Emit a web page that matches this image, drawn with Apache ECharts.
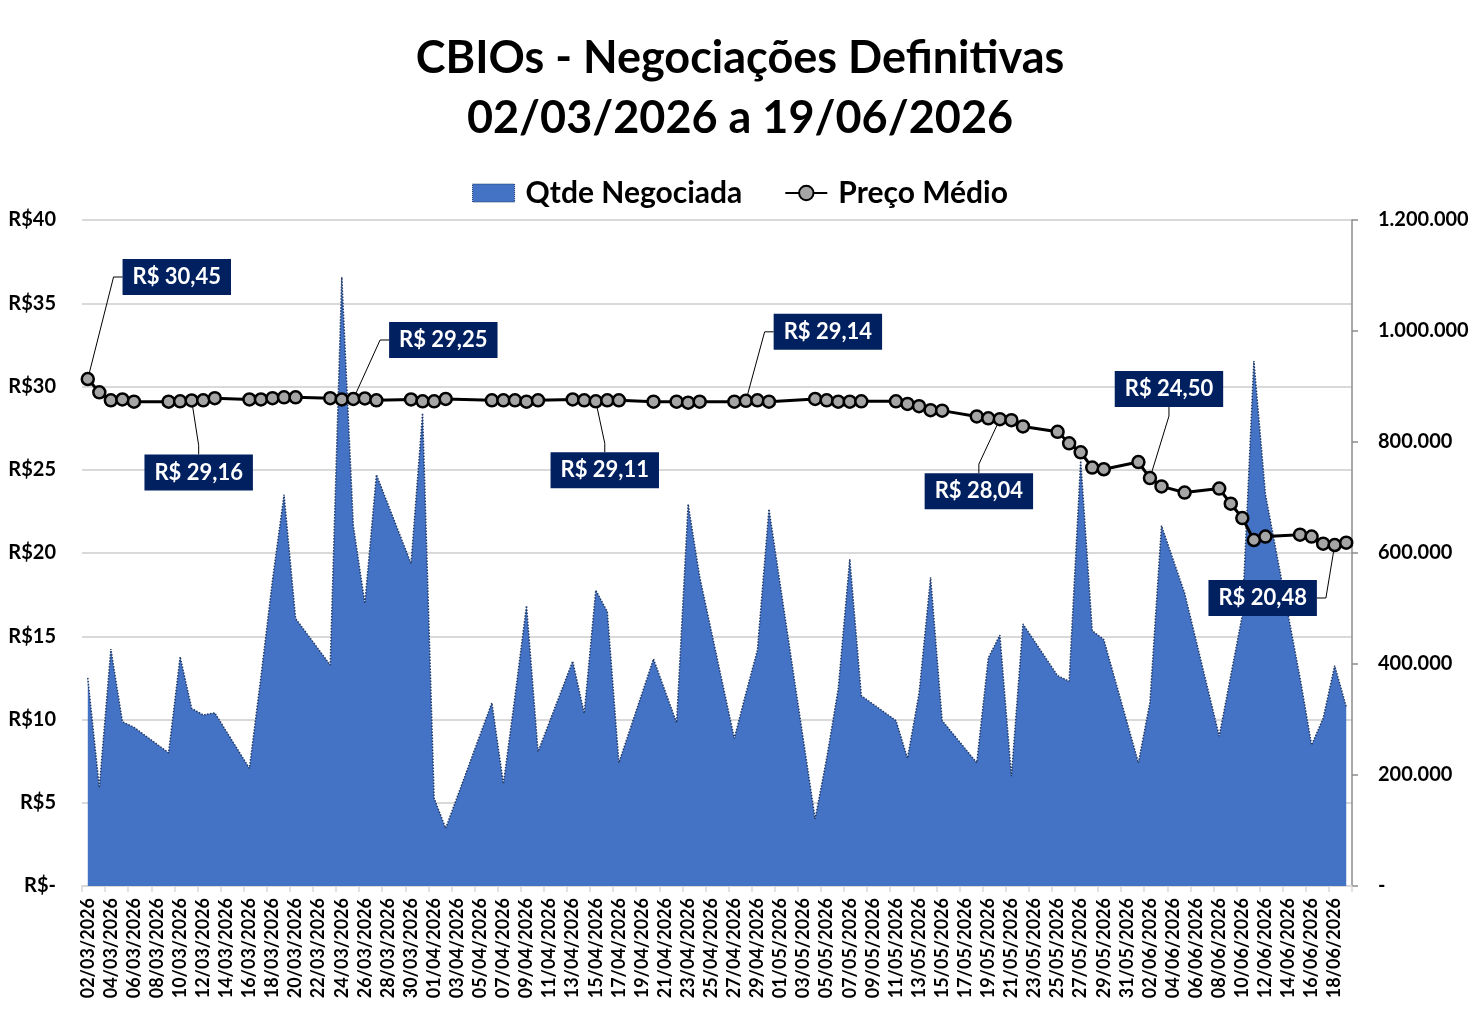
<!DOCTYPE html>
<html>
<head>
<meta charset="utf-8">
<title>CBIOs - Negociações Definitivas</title>
<script src="https://cdn.jsdelivr.net/npm/echarts@6.0.0/dist/echarts.min.js"></script>
<style>
  html, body { margin: 0; padding: 0; background: #fff; }
  #chart { width: 1480px; height: 1022px; }
</style>
</head>
<body>
<div id="chart"></div>
<script>
// pregões (dias com negociação)
const tradeDates = [
  '02/03/2026', '03/03/2026', '04/03/2026', '05/03/2026', '06/03/2026',
  '09/03/2026', '10/03/2026', '11/03/2026', '12/03/2026', '13/03/2026',
  '16/03/2026', '17/03/2026', '18/03/2026', '19/03/2026', '20/03/2026',
  '23/03/2026', '24/03/2026', '25/03/2026', '26/03/2026', '27/03/2026',
  '30/03/2026', '31/03/2026', '01/04/2026', '02/04/2026',
  '06/04/2026', '07/04/2026', '08/04/2026', '09/04/2026', '10/04/2026',
  '13/04/2026', '14/04/2026', '15/04/2026', '16/04/2026', '17/04/2026',
  '20/04/2026', '22/04/2026', '23/04/2026', '24/04/2026',
  '27/04/2026', '28/04/2026', '29/04/2026', '30/04/2026',
  '04/05/2026', '05/05/2026', '06/05/2026', '07/05/2026', '08/05/2026',
  '11/05/2026', '12/05/2026', '13/05/2026', '14/05/2026', '15/05/2026',
  '18/05/2026', '19/05/2026', '20/05/2026', '21/05/2026', '22/05/2026',
  '25/05/2026', '26/05/2026', '27/05/2026', '28/05/2026', '29/05/2026',
  '01/06/2026', '02/06/2026', '03/06/2026', '05/06/2026',
  '08/06/2026', '09/06/2026', '10/06/2026', '11/06/2026', '12/06/2026',
  '15/06/2026', '16/06/2026', '17/06/2026', '18/06/2026', '19/06/2026'
];

const qtdeNegociada = [
  375000, 177000, 427000, 296000, 286000,
  240000, 413000, 320000, 308000, 312000,
  212000, 377000, 551000, 705000, 482000,
  398000, 1097000, 649000, 509000, 741000,
  581000, 852000, 158000, 104000,
  330000, 184000, 341000, 505000, 242000,
  405000, 311000, 533000, 494000, 222000,
  409000, 294000, 688000, 557000,
  266000, 347000, 425000, 679000,
  121000, 230000, 355000, 589000, 343000,
  298000, 230000, 347000, 556000, 298000,
  222000, 411000, 452000, 198000, 472000,
  379000, 369000, 766000, 460000, 444000,
  222000, 331000, 649000, 528000,
  270000, 379000, 488000, 946000, 706000,
  375000, 254000, 302000, 397000, 323000
];

const precoMedio = [
  30.45, 29.65, 29.17, 29.22, 29.09,
  29.09, 29.11, 29.16, 29.17, 29.30,
  29.22, 29.22, 29.30, 29.35, 29.35,
  29.30, 29.22, 29.25, 29.28, 29.17,
  29.22, 29.11, 29.11, 29.25,
  29.17, 29.17, 29.17, 29.09, 29.17,
  29.22, 29.17, 29.11, 29.17, 29.17,
  29.09, 29.09, 29.03, 29.09,
  29.09, 29.14, 29.17, 29.09,
  29.25, 29.17, 29.09, 29.09, 29.11,
  29.11, 28.95, 28.82, 28.58, 28.55,
  28.20, 28.09, 28.04, 27.98, 27.60,
  27.28, 26.59, 26.05, 25.13, 25.03,
  25.46, 24.50, 24.00, 23.63,
  23.87, 22.96, 22.10, 20.78, 20.99,
  21.10, 20.99, 20.56, 20.48, 20.62
];

// pontos com rótulo de destaque
const destaques = ['02/03/2026', '11/03/2026', '25/03/2026', '15/04/2026',
                   '28/04/2026', '20/05/2026', '02/06/2026', '18/06/2026'];

// deslocamento de cada rótulo em relação ao ponto (px)
const labelOffsets = {
  '02/03/2026': [89, -102],
  '11/03/2026': [7, 72],
  '25/03/2026': [90, -59],
  '15/04/2026': [9, 69],
  '28/04/2026': [82, -69],
  '20/05/2026': [-21, 72],
  '02/06/2026': [19, -89],
  '18/06/2026': [-72, 53]
};

// eixo de datas corrido (dia a dia)
function fmtDate(d) {
  const dd = String(d.getUTCDate()).padStart(2, '0');
  const mm = String(d.getUTCMonth() + 1).padStart(2, '0');
  return dd + '/' + mm + '/' + d.getUTCFullYear();
}
function parseDate(s) {
  const p = s.split('/');
  return new Date(Date.UTC(+p[2], +p[1] - 1, +p[0]));
}
const calendarDays = [];
for (let d = parseDate(tradeDates[0]); d <= parseDate(tradeDates[tradeDates.length - 1]);
     d = new Date(d.getTime() + 86400000)) {
  calendarDays.push(fmtDate(d));
}

const qtdeData = calendarDays.map(day => {
  const i = tradeDates.indexOf(day);
  return i >= 0 ? qtdeNegociada[i] : null;
});
const precoData = calendarDays.map(day => {
  const i = tradeDates.indexOf(day);
  if (i < 0) return null;
  if (destaques.indexOf(day) >= 0) {
    return { value: precoMedio[i], label: { show: true } };
  }
  return precoMedio[i];
});

function milhar(v) {
  return String(v).replace(/\B(?=(\d{3})+(?!\d))/g, '.');
}

const chart = echarts.init(document.getElementById('chart'), null, { renderer: 'canvas' });
const FONT = 'Lato';

const option = {
  animation: false,
  backgroundColor: '#ffffff',
  textStyle: { fontFamily: FONT },
  title: {
    text: 'CBIOs - Negociações Definitivas\n02/03/2026 a 19/06/2026',
    left: 'center',
    top: 23,
    padding: [5, 0, 5, 16],
    textStyle: {
      fontFamily: FONT,
      fontSize: 45,
      fontWeight: 'bold',
      lineHeight: 60,
      color: '#000'
    }
  },
  legend: {
    top: 173,
    left: 'center',
    itemWidth: 42,
    itemHeight: 18,
    itemGap: 42,
    textStyle: {
      fontFamily: FONT, fontSize: 30, fontWeight: 'bold', color: '#000',
      padding: [0, 0, 0, 6]
    },
    data: [
      {
        name: 'Qtde Negociada',
        icon: 'rect',
        itemStyle: { color: '#4472C4', borderColor: '#1F3864', borderWidth: 1, borderType: 'dotted' }
      },
      { name: 'Preço Médio' }
    ]
  },
  grid: {
    left: 82,
    right: 128,
    top: 220,
    bottom: 136
  },
  xAxis: {
    type: 'category',
    data: calendarDays,
    boundaryGap: true,
    axisLine: { show: true, lineStyle: { color: '#D9D9D9', width: 2 } },
    axisTick: { show: true, interval: 1, length: 6, lineStyle: { color: '#D9D9D9', width: 1.5 } },
    axisLabel: {
      interval: 1,
      rotate: 90,
      margin: 12,
      fontFamily: FONT,
      fontSize: 18,
      fontWeight: 'bold',
      color: '#000'
    },
    splitLine: { show: false }
  },
  yAxis: [
    {
      type: 'value',
      min: 0,
      max: 40,
      interval: 5,
      axisLine: { show: false },
      axisTick: { show: false },
      axisLabel: {
        margin: 26,
        fontFamily: FONT,
        fontSize: 20,
        fontWeight: 'bold',
        color: '#000',
        formatter: v => (v === 0 ? 'R$-' : 'R$' + v)
      },
      splitLine: { show: true, lineStyle: { color: '#D9D9D9', width: 2 } }
    },
    {
      type: 'value',
      min: 0,
      max: 1200000,
      interval: 200000,
      position: 'right',
      axisLine: { show: true, lineStyle: { color: '#8C8C8C', width: 1.5 } },
      axisTick: { show: true, inside: false, length: 6, lineStyle: { color: '#8C8C8C', width: 1.5 } },
      axisLabel: {
        margin: 26,
        fontFamily: FONT,
        fontSize: 20,
        fontWeight: 'bold',
        color: '#000',
        formatter: v => (v === 0 ? '-' : milhar(v))
      },
      splitLine: { show: false }
    }
  ],
  series: [
    {
      name: 'Qtde Negociada',
      type: 'line',
      yAxisIndex: 1,
      data: qtdeData,
      connectNulls: true,
      showSymbol: false,
      symbol: 'none',
      z: 1,
      lineStyle: { color: '#1F3864', width: 1.5, type: 'dotted' },
      itemStyle: { color: '#4472C4' },
      areaStyle: { color: '#4472C4', opacity: 1 }
    },
    {
      name: 'Preço Médio',
      type: 'line',
      yAxisIndex: 0,
      data: precoData,
      connectNulls: true,
      symbol: 'circle',
      symbolSize: 12,
      showSymbol: true,
      showAllSymbol: true,
      z: 3,
      lineStyle: { color: '#000', width: 3 },
      itemStyle: { color: '#A5A5A5', borderColor: '#000', borderWidth: 2.5 },
      label: {
        show: false,
        position: 'inside',
        formatter: p => 'R$ ' + Number(p.value).toFixed(2).replace('.', ','),
        backgroundColor: '#002060',
        color: '#fff',
        fontFamily: FONT,
        fontSize: 22,
        fontWeight: 'bold',
        lineHeight: 24,
        padding: [6, 10]
      },
      labelLine: {
        show: true,
        length2: 9,
        lineStyle: { color: '#000', width: 1 }
      },
      labelLayout: function (params) {
        const off = labelOffsets[calendarDays[params.dataIndex]];
        if (!off) return {};
        return { dx: off[0], dy: off[1] };
      }
    }
  ]
};

chart.setOption(option);
</script>
</body>
</html>
